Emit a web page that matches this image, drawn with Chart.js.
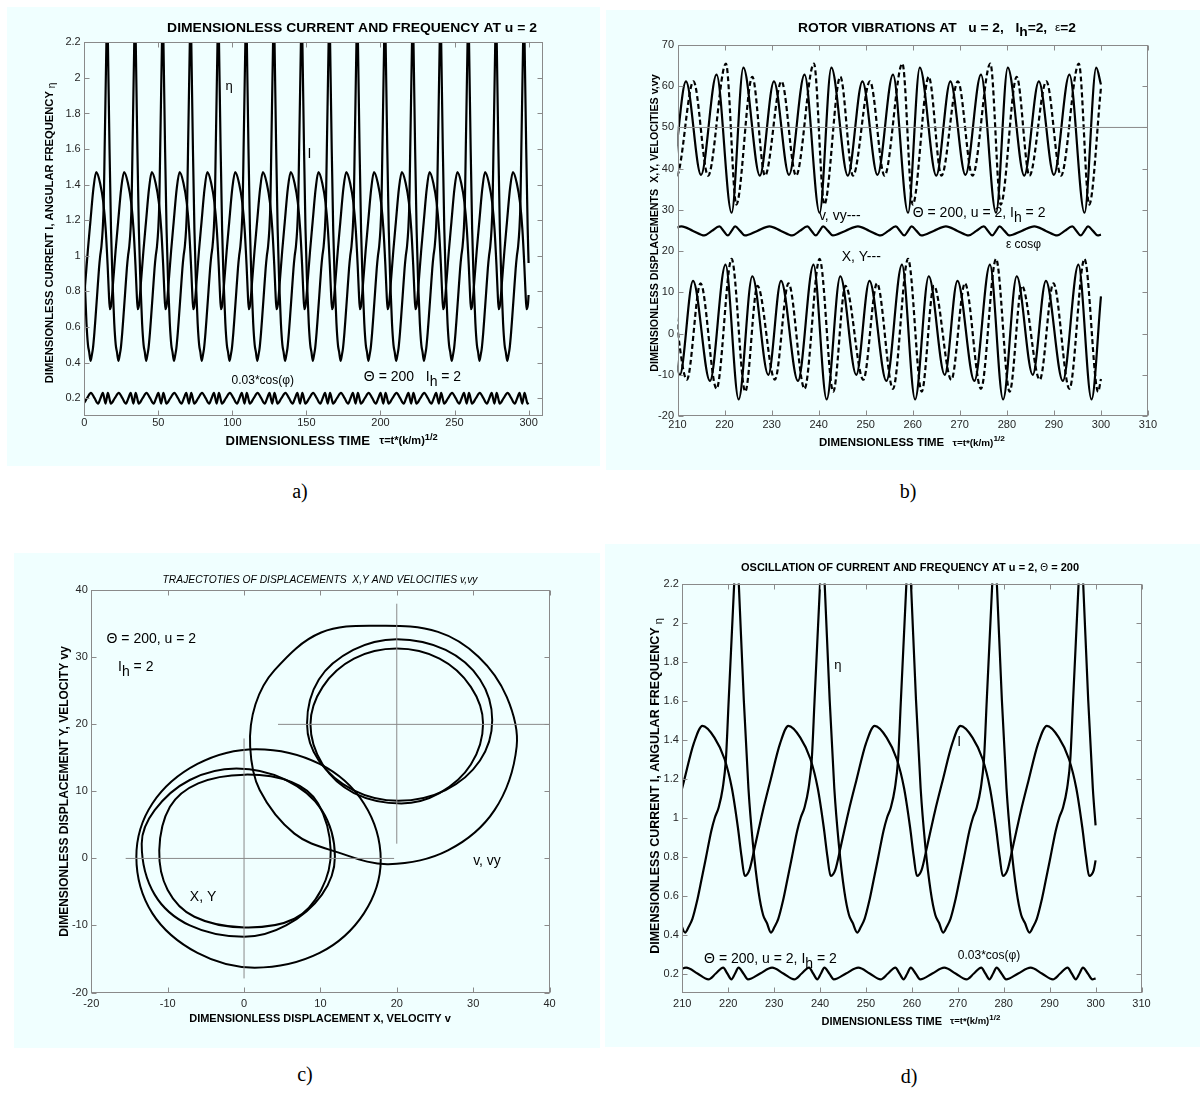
<!DOCTYPE html>
<html>
<head>
<meta charset="utf-8">
<title>Current, frequency and rotor vibrations</title>
<script src="https://cdn.jsdelivr.net/npm/chart.js@4.4.1/dist/chart.umd.min.js"></script>
<style>
  body { margin: 0; width: 1200px; height: 1093px; background: #fff; position: relative; overflow: hidden; }
  .panel { position: absolute; background: #f0ffff; }
  .panel canvas { display: block; }
  .cap { position: absolute; font: 20px "Liberation Serif", "Times New Roman", serif; color: #000; transform: translateX(-50%); }
</style>
</head>
<body>
<div class="panel" style="left:7px;top:7px;width:593px;height:459px"><canvas id="chartA"></canvas></div>
<div class="panel" style="left:606px;top:10px;width:594px;height:460px"><canvas id="chartB"></canvas></div>
<div class="panel" style="left:14px;top:553px;width:586px;height:495px"><canvas id="chartC"></canvas></div>
<div class="panel" style="left:605px;top:544px;width:595px;height:503px"><canvas id="chartD"></canvas></div>
<div class="cap" style="left:300px;top:480px">a)</div>
<div class="cap" style="left:908px;top:480px">b)</div>
<div class="cap" style="left:305px;top:1063px">c)</div>
<div class="cap" style="left:909px;top:1065px">d)</div>

<script>
// --- data ---

// times of the η spikes, one per cycle (τ); everything repeats with them
const cycleTimes = [-3.25, 15.5, 34.3, 53.0, 71.8, 90.5, 109.3, 128.0, 146.8, 165.5, 184.3, 203.0, 221.8, 240.5, 259.3, 278.0, 296.8];
const endTime = 300;

// angular frequency η over one cycle (offset from spike)
const etaOffsets = [-11.2, -10.4, -9.6, -8.6, -7.8, -6.6, -5.5, -4.7, -3.9, -3.0, -2.3, -1.7, -0.5, 0, 0.5, 1.6, 2.6, 3.6, 4.8, 5.8, 6.6];
const etaValues  = [0.41, 0.44, 0.48, 0.57, 0.66, 0.80, 0.93, 1.00, 1.05, 1.15, 1.30, 1.60, 2.20, 2.45, 2.20, 1.60, 1.15, 0.86, 0.62, 0.50, 0.46];
const etaEnd = 0.96;

// current I
const currentOffsets = [-7.4, -4.8, -2.6, -1.0, 0.3, 1.1, 1.8, 2.8, 4.0, 5.7, 7.4, 9.5];
const currentValues  = [1.47, 1.41, 1.30, 1.15, 0.95, 0.80, 0.70, 0.73, 0.85, 1.03, 1.19, 1.38];
const currentEnd = 0.78;

// 0.03*cos(phi), drawn around 0.2
const cosOffsets = [-10.95, -8.5, -6.1, -4.5, -2.9, -2.0, -1.1, -0.3, 0.45, 1.5, 2.5, 5.15];
const cosValues  = [0.23, 0.20, 0.17, 0.20, 0.23, 0.20, 0.17, 0.20, 0.23, 0.20, 0.17, 0.20];
const cosEnd = 0.175;

// rotor vibrations (b): velocities around 50, displacements around 0
const vOffsets = [-10.0, -6.8, -3.5, -0.3, 2.2, 5.7];
const vValues  = [61.2, 38.5, 62.8, 29.3, 64.5, 38.3];
const vyOffsets = [-8.4, -5.3, -1.5, 0.7, 4.1, 6.8];
const vyValues  = [61.2, 38.3, 65.5, 31.3, 62.3, 38.3];
const dispXOffsets = [-8.5, -4.9, -1.6, 1.2, 4.1, 7.5];
const dispXValues  = [12.8, -11.5, 16.7, -16.0, 13.9, -10.0];
const dispYOffsets = [-9.8, -6.9, -3.5, -0.3, 2.6, 5.2];
const dispYValues  = [-11.2, 12.2, -13.4, 18.1, -14.1, 11.6];
const epsCosValues = [26.0, 24.9, 23.8, 24.9, 26.0, 24.9, 23.8, 24.9, 26.0, 24.9, 23.8, 24.9]; // on cosOffsets
const vEnd = 60.4, vyEnd = 59.6, dispXEnd = 9.0, dispYEnd = -11.0, epsCosEnd = 24.0;
const velocityZero = 50;

// trajectories (c)
const xyInnerX  = [11.35, 9.7, 6.2, 0.1, -6.0, -9.7, -11.1, -10.0, -6.5, 0.1, 6.6, 10.1];
const xyInnerY  = [1.2, 8.2, 11.4, 12.5, 11.2, 7.7, 1.2, -4.7, -8.7, -10.3, -9.0, -4.7];
const xyMiddleX = [11.9, 10.2, 5.5, -1.0, -7.1, -11.7, -13.4, -11.7, -7.1, 0.0, 5.5, 10.2];
const xyMiddleY = [0.25, 7.2, 11.7, 13.4, 11.7, 7.2, 2.2, -5.4, -10.0, -11.7, -10.0, -5.4];
const xyOuterX  = [17.9, 15.7, 9.9, 1.6, -6.1, -12.0, -14.1, -12.0, -6.1, 1.4, 9.9, 15.7];
const xyOuterY  = [-0.25, 8.2, 14.1, 16.3, 14.1, 8.2, 0.25, -8.2, -14.1, -16.3, -14.1, -8.2];
const velInnerX  = [31.3, 29.7, 25.6, 20.0, 14.4, 10.3, 8.7, 10.3, 14.4, 20.6, 25.6, 29.7];
const velInnerY  = [20.1, 25.6, 29.8, 31.3, 29.8, 25.6, 20.0, 14.0, 9.75, 8.2, 9.75, 14.0];
const velMiddleX = [32.5, 30.9, 26.4, 20.0, 14.3, 9.8, 8.25, 9.8, 14.3, 20.2, 26.4, 30.9];
const velMiddleY = [20.6, 26.7, 31.1, 32.7, 31.1, 26.7, 20.1, 14.6, 10.2, 8.6, 10.2, 14.6];
const velOuterX  = [35.7, 34.4, 30.7, 25.4, 18.0, 10.1, 4.0, 1.5, 0.8, 2.05, 6.6, 12.3, 18.9, 26.7, 32.8];
const velOuterY  = [16.7, 24.1, 30.1, 33.8, 34.7, 33.7, 28.1, 23.0, 16.7, 10.2, 3.7, 0.9, -0.85, 1.2, 7.2];
// thin reference cross lines: [x1, y1, x2, y2]
const crossLines = [[-15.5, 0, 19.65, 0], [0, -17.9, 0, 17.9], [4.45, 20, 40, 20], [20, 2.2, 20, 38]];

// tick labels
const ticksTime = [0, 50, 100, 150, 200, 250, 300];
const ticksTimeZoom = [210, 220, 230, 240, 250, 260, 270, 280, 290, 300, 310];
const ticksFreq = [0.2, 0.4, 0.6, 0.8, 1, 1.2, 1.4, 1.6, 1.8, 2, 2.2];
const ticksVib = [-20, -10, 0, 10, 20, 30, 40, 50, 60, 70];
const ticksTraj = [-20, -10, 0, 10, 20, 30, 40];

// --- helpers ---
const FAMILY = '"Liberation Sans", Arial, Helvetica, sans-serif';
const GREY = '#8a8a8a';

function cycleSeries(offsets, values, endValue) {
    const pts = [];
    cycleTimes.forEach(t0 => {
        offsets.forEach((dt, i) => {
            if (t0 + dt < endTime) pts.push({ x: t0 + dt, y: values[i] });
        });
    });
    pts.sort((a, b) => a.x - b.x);
    pts.push({ x: endTime, y: endValue });
    return pts;
}

// closed loop: pad with neighbours so the curve is smooth at the join
function loopSeries(xs, ys) {
    const pts = xs.map((x, i) => ({ x: x, y: ys[i] }));
    const n = pts.length;
    return [pts[n - 1]].concat(pts, [pts[0], pts[1]]);
}

function curve(data, dashed) {
    return {
        data: data, showLine: true, borderColor: '#000', borderWidth: 2.2, pointRadius: 0,
        cubicInterpolationMode: 'monotone', borderDash: dashed ? [5, 3] : [], clip: 0
    };
}

function loop(xs, ys) {
    const data = loopSeries(xs, ys);
    const last = data.length - 2;
    return {
        data: data, showLine: true, borderColor: '#000', borderWidth: 2, pointRadius: 0, tension: 0.36, clip: 0,
        segment: { borderColor: c => (c.p0DataIndex === 0 || c.p0DataIndex === last) ? 'rgba(0,0,0,0)' : undefined }
    };
}

function thinLine(x1, y1, x2, y2) {
    return { data: [{ x: x1, y: y1 }, { x: x2, y: y2 }], showLine: true, borderColor: GREY, borderWidth: 1, pointRadius: 0, clip: 0 };
}

// rich text; sx stretches horizontal text (the scanned figure is wider than tall)
function drawParts(ctx, x, y, parts, align, rotate, sx) {
    ctx.save();
    ctx.translate(x, y);
    if (rotate) ctx.rotate(-Math.PI / 2);
    else if (sx) ctx.scale(sx, 1);
    ctx.textBaseline = 'middle';
    ctx.textAlign = 'left';
    ctx.fillStyle = '#000';
    let w = 0;
    parts.forEach(p => { ctx.font = p[1] + ' ' + FAMILY; w += ctx.measureText(p[0]).width; });
    let cx = align === 'center' ? -w / 2 : 0;
    parts.forEach(p => {
        ctx.font = p[1] + ' ' + FAMILY;
        ctx.fillText(p[0], cx, p[2] || 0);
        cx += ctx.measureText(p[0]).width;
    });
    ctx.restore();
}

// box, inward ticks, titles and notes
const framePlugin = {
    id: 'frame',
    afterDatasetsDraw(chart, args, o) {
        const ctx = chart.ctx, a = chart.chartArea;
        const sx = chart.scales.x, sy = chart.scales.y;
        const l = Math.round(a.left) + 0.5, r = Math.round(a.right) - 0.5;
        const t = Math.round(a.top) + 0.5, b = Math.round(a.bottom) - 0.5;
        ctx.save();
        ctx.strokeStyle = GREY;
        ctx.lineWidth = 1;
        ctx.strokeRect(l, t, r - l, b - t);
        ctx.beginPath();
        o.xTicks.forEach(v => {
            const px = Math.round(sx.getPixelForValue(v)) + 0.5;
            ctx.moveTo(px, b); ctx.lineTo(px, b - 5);
            ctx.moveTo(px, t); ctx.lineTo(px, t + 5);
        });
        o.yTicks.forEach(v => {
            const py = Math.round(sy.getPixelForValue(v)) + 0.5;
            ctx.moveTo(l, py); ctx.lineTo(l + 5, py);
            ctx.moveTo(r, py); ctx.lineTo(r - 5, py);
        });
        ctx.stroke();
        ctx.restore();
    },
    afterDraw(chart, args, o) {
        const ctx = chart.ctx;
        const sx = chart.scales.x, sy = chart.scales.y;
        o.texts.forEach(tx => drawParts(ctx, tx.x - o.left, tx.y - o.top, tx.parts, 'center', tx.rotate, tx.sx));
        o.notes.forEach(n => drawParts(ctx, sx.getPixelForValue(n.x), sy.getPixelForValue(n.y), n.parts, n.align || 'left'));
    }
};

function makeChart(id, p) {
    const fmt = v => String(Math.round(v * 10) / 10);
    const tickFont = { family: FAMILY, size: 11 };
    return new Chart(document.getElementById(id), {
        type: 'scatter',
        data: { datasets: p.datasets },
        options: {
            responsive: true, maintainAspectRatio: false, animation: false, devicePixelRatio: 1, events: [],
            layout: { padding: p.padding },
            plugins: {
                legend: { display: false }, tooltip: { enabled: false },
                frame: { xTicks: p.xTicks, yTicks: p.yTicks, texts: p.texts, notes: p.notes, left: p.left, top: p.top }
            },
            scales: {
                x: {
                    type: 'linear', min: p.xMin, max: p.xMax,
                    grid: { display: false, drawTicks: false }, border: { display: false },
                    afterBuildTicks: s => { s.ticks = p.xTicks.map(v => ({ value: v })); },
                    afterFit: s => { s.height = 24; },
                    ticks: { color: '#262626', font: tickFont, padding: p.xPad, maxRotation: 0, autoSkip: false, callback: fmt }
                },
                y: {
                    type: 'linear', min: p.yMin, max: p.yMax,
                    grid: { display: false, drawTicks: false }, border: { display: false },
                    afterBuildTicks: s => { s.ticks = p.yTicks.map(v => ({ value: v })); },
                    afterFit: s => { s.width = 40; },
                    ticks: { color: '#262626', font: tickFont, padding: 3.5, autoSkip: false, callback: fmt }
                }
            }
        },
        plugins: [framePlugin]
    });
}

const B11 = 'bold 11px', B12 = 'bold 12px', N14 = '14px';
const timeTitle = [['DIMENSIONLESS TIME', B11], ['   \u03c4=t*(k/m)', 'bold 9.5px'], ['1/2', 'bold 8px', -4]];
const timeTitleA = [['DIMENSIONLESS TIME', B12], ['   \u03c4=t*(k/m)', 'bold 10px'], ['1/2', 'bold 8.5px', -4]];
const freqTitle = [['DIMENSIONLESS CURRENT I, ANGULAR FREQUENCY', B11], [' \u03b7', '10px', 3]];
const thetaFull = [['\u0398 = 200, u = 2, I', N14], ['h', N14, 5], [' = 2', N14]];

const etaData = cycleSeries(etaOffsets, etaValues, etaEnd);
const currentData = cycleSeries(currentOffsets, currentValues, currentEnd);
const cosData = cycleSeries(cosOffsets, cosValues, cosEnd);

// a) whole run
makeChart('chartA', {
    left: 7, top: 7,
    padding: { left: 37.2, top: 35.3, right: 56.6, bottom: 26 },
    xMin: 0, xMax: 310, yMin: 0.1, yMax: 2.2, xTicks: ticksTime, yTicks: ticksFreq, xPad: 0,
    datasets: [curve(etaData), curve(currentData), curve(cosData)],
    texts: [
        { x: 352, y: 28.3, parts: [['DIMENSIONLESS CURRENT AND FREQUENCY AT u = 2', B12]], sx: 1.16 },
        { x: 331.7, y: 441.7, parts: timeTitleA, sx: 1.1 },
        { x: 49.5, y: 233, parts: [['DIMENSIONLESS CURRENT I, ANGULAR FREQUENCY', 'bold 11.2px'], [' \u03b7', '10px', 3]], rotate: true }
    ],
    notes: [
        { x: 97.8, y: 1.95, parts: [['\u03b7', '13px']], align: 'center' },
        { x: 152, y: 1.57, parts: [['I', N14]], align: 'center' },
        { x: 99.5, y: 0.30, parts: [['0.03*cos(\u03c6)', '12px']] },
        { x: 188.8, y: 0.317, parts: [['\u0398 = 200   I', N14], ['h', N14, 5], [' = 2', N14]] }
    ]
});

// b) rotor vibrations
makeChart('chartB', {
    left: 606, top: 10,
    padding: { left: 31.5, top: 35, right: 52, bottom: 30 },
    xMin: 210, xMax: 310, yMin: -20, yMax: 70, xTicks: ticksTimeZoom, yTicks: ticksVib, xPad: 2.4,
    datasets: [
        thinLine(210, velocityZero, 310, velocityZero),
        curve(cycleSeries(vOffsets, vValues, vEnd)),
        curve(cycleSeries(vyOffsets, vyValues, vyEnd), true),
        curve(cycleSeries(cosOffsets, epsCosValues, epsCosEnd)),
        curve(cycleSeries(dispXOffsets, dispXValues, dispXEnd)),
        curve(cycleSeries(dispYOffsets, dispYValues, dispYEnd), true)
    ],
    texts: [
        { x: 937, y: 28.3, parts: [['ROTOR VIBRATIONS AT   u = 2,   I', B12], ['h', B12, 4], ['=2,  ', B12], ['\u03b5', '10.5px'], ['=2', B12]], sx: 1.15 },
        { x: 912, y: 443, parts: timeTitle, sx: 1.04 },
        { x: 655, y: 223, parts: [['DIMENSIONLESS DISPLACEMENTS  X,Y, VELOCITIES v,vy', 'bold 10.7px']], rotate: true }
    ],
    notes: [
        { x: 240.05, y: 28.5, parts: [['v, vy---', N14]] },
        { x: 260.0, y: 29.3, parts: thetaFull },
        { x: 279.8, y: 21.65, parts: [['\u03b5 cos\u03c6', '12px']] },
        { x: 244.9, y: 18.65, parts: [['X, Y---', N14]] }
    ]
});

// c) trajectories
makeChart('chartC', {
    left: 14, top: 553,
    padding: { left: 37.3, top: 37.3, right: 50.5, bottom: 31.5 },
    xMin: -20, xMax: 40, yMin: -20, yMax: 40, xTicks: ticksTraj, yTicks: ticksTraj, xPad: 5,
    datasets: crossLines.map(c => thinLine(c[0], c[1], c[2], c[3])).concat([
        loop(xyInnerX, xyInnerY), loop(xyMiddleX, xyMiddleY), loop(xyOuterX, xyOuterY),
        loop(velInnerX, velInnerY), loop(velMiddleX, velMiddleY), loop(velOuterX, velOuterY)
    ]),
    texts: [
        { x: 320, y: 580, parts: [['TRAJECTOTIES OF DISPLACEMENTS  X,Y AND VELOCITIES v,vy', 'italic 10.3px']] },
        { x: 320, y: 1019.3, parts: [['DIMENSIONLESS DISPLACEMENT X, VELOCITY v', B11]] },
        { x: 64.5, y: 791.5, parts: [['DIMENSIONLESS DISPLACEMENT Y, VELOCITY vy', 'bold 12px']], rotate: true }
    ],
    notes: [
        { x: -18.0, y: 32.7, parts: [['\u0398 = 200, u = 2', N14]] },
        { x: -16.5, y: 28.5, parts: [['I', N14], ['h', N14, 5], [' = 2', N14]] },
        { x: -7.1, y: -5.7, parts: [['X, Y', N14]] },
        { x: 30.0, y: -0.35, parts: [['v, vy', N14]] }
    ]
});

// d) last part of the run
makeChart('chartD', {
    left: 605, top: 544,
    padding: { left: 37.3, top: 39.5, right: 58.5, bottom: 30 },
    xMin: 210, xMax: 310, yMin: 0.1, yMax: 2.2, xTicks: ticksTimeZoom, yTicks: ticksFreq, xPad: 4.4,
    datasets: [curve(etaData), curve(currentData), curve(cosData)],
    texts: [
        { x: 910, y: 568.3, parts: [['OSCILLATION OF CURRENT AND FREQUENCY AT u = 2, ', B11], ['\u0398', '10px'], [' = 200', B11]] },
        { x: 911, y: 1021.7, parts: timeTitle },
        { x: 655.5, y: 786, parts: [['DIMENSIONLESS CURRENT I, ANGULAR FREQUENCY', 'bold 12.5px'], [' \u03b7', '11px', 3]], rotate: true }
    ],
    notes: [
        { x: 243.9, y: 1.78, parts: [['\u03b7', '13px']], align: 'center' },
        { x: 270.3, y: 1.384, parts: [['I', N14]], align: 'center' },
        { x: 214.75, y: 0.273, parts: thetaFull },
        { x: 270.0, y: 0.292, parts: [['0.03*cos(\u03c6)', '12px']] }
    ]
});
</script>
</body>
</html>
